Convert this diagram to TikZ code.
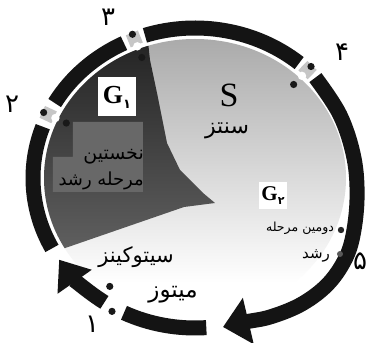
\documentclass[tikz,border=0pt]{standalone}
\usepackage{fontspec}
\setmainfont{Liberation Serif}
\newfontfamily\arabicfont[Script=Arabic]{DejaVu Sans}
\TeXXeTstate=1
\usetikzlibrary{arrows.meta}
\newcommand\fs[1]{\arabicfont\fontsize{#1}{#1}\selectfont}
\newcommand\chk[2]{%
  \path (O) ++(#2:162 and 150) node[chksq,rotate=#2] (#1) {};
  \fill[black!90] (O) ++(#2:167 and 155) circle[radius=3.6];
  \fill[white] (O) ++(#2:154 and 142) circle[radius=4.2];
  \fill[black!90] (O) ++(#2:142 and 130) circle[radius=3.6];
}
\begin{document}
\begin{tikzpicture}[x=1pt,y=1pt,
  ring/.style={line width=15pt, draw=black!92},
  chksq/.style={rectangle, fill=gray!45, minimum size=13pt, inner sep=0pt},
  lab/.style={inner sep=0pt, text=black},
  whitebox/.style={fill=white, inner sep=0pt},
  numlab/.style={inner sep=0pt, text=black}]
\useasboundingbox (0,0) rectangle (368,343);
\fill[white] (0,0) rectangle (368,343);
\coordinate (O) at (195,165);
% inner disc shading
\begin{scope}
  \clip (O) ellipse[x radius=151, y radius=139];
  \shade[top color=gray!70, middle color=gray!38, bottom color=white] (0,318) rectangle (368,60);
  \shade[top color=black!88, bottom color=black!62]
    (146,320) -- (150,283) -- (157,250) -- (167,200) -- (180,173) -- (203,150)
    -- (215,140) -- (184,136) -- (45,88) -- (0,88) -- (0,320) -- cycle;
\end{scope}
% ring segments
\draw[ring] (O) ++(208:162 and 150) arc[start angle=208, end angle=160, x radius=162, y radius=150];
\draw[ring] (O) ++(150:162 and 150) arc[start angle=150, end angle=116, x radius=162, y radius=150];
\draw[ring] (O) ++(108:162 and 150) arc[start angle=108, end angle=50, x radius=162, y radius=150];
\draw[ring, -{Triangle[width=46pt,length=26pt]}] plot[smooth, tension=0.6] coordinates
  {(315.4,265.4) (340,228) (354,185) (357,143) (352,103) (342,78) (325,56) (300,38) (270,26) (245,21) (223,16)};
\draw[ring] (O) ++(244:162 and 150) arc[start angle=244, end angle=274, x radius=162, y radius=150];
\draw[ring, -{Triangle[width=40pt,length=27pt]}] (O) ++(236:162 and 150) arc[start angle=236, end angle=213, x radius=162, y radius=150];
% checkpoints
\chk{k2}{155}
\chk{k3}{112}
\chk{k4}{46}
\fill[black!85] (341,113) circle[radius=3.2];
\fill[black!65] (340,89) circle[radius=3];
\fill[black!90] (O) ++(234:145 and 134) circle[radius=3.6];
\fill[black!90] (O) ++(240:166 and 154) circle[radius=3.6];
% gray box for G1 text
\fill[fill={rgb,255:red,104;green,104;blue,104}] (73,221) -- (143,221) -- (143,151) -- (53,151) -- (53,186) -- (73,186) -- cycle;
% labels
\node[whitebox, minimum width=38pt, minimum height=39pt] (g1) at (117,246)
  {\fontsize{26}{26}\selectfont\bfseries G\raisebox{-5pt}{\fs{13}۱}};
\node[lab, anchor=east] (t1) at (144,186) {\fs{19}\beginR نخستین\endR};
\node[lab, anchor=east] (t2) at (144,162) {\fs{18}\beginR مرحله رشد\endR};
\node[lab] (s) at (229,248) {\fontsize{34}{34}\selectfont S};
\node[lab] (s2) at (227,212) {\fs{22}\beginR سنتز\endR};
\node[whitebox, minimum width=28pt, minimum height=27pt] (g2) at (273,147.5)
  {\fontsize{21}{21}\selectfont\bfseries G\raisebox{-4pt}{\fs{11}۲}};
\node[lab] (t3) at (300,115) {\fs{12.5}\beginR دومین مرحله\endR};
\node[lab] (t4) at (316,87) {\fs{15}\beginR رشد\endR};
\node[lab] (cy) at (136,86) {\fs{21}\beginR سیتوکینز\endR};
\node[lab] (mi) at (173,48) {\fs{23}\beginR میتوز\endR};
% numbers
\node[numlab] (n3) at (108,326) {\fs{26}۳};
\node[numlab] (n2) at (12,239) {\fs{26}۲};
\node[numlab] (n4) at (342,291) {\fs{26}۴};
\node[numlab] (n5) at (360,82) {\fs{26}۵};
\node[numlab] (n1) at (92,19) {\fs{26}۱};
\end{tikzpicture}
\end{document}
